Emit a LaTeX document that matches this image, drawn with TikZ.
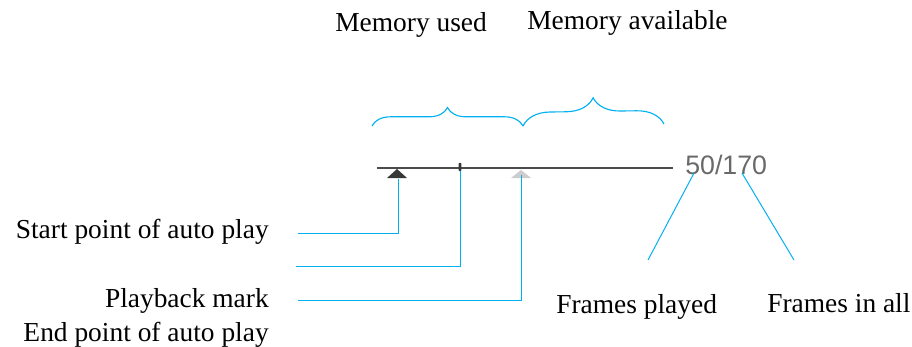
\documentclass[tikz,border=0pt]{standalone}
\usepackage{fontspec}
\setmainfont{Liberation Serif}
\newfontfamily\countfont{Liberation Sans}
\usetikzlibrary{decorations.pathreplacing,calc}
\usepackage{xcolor}
\definecolor{tlblue}{RGB}{0,176,240}
\definecolor{tlgray}{RGB}{75,75,75}
\definecolor{tlmark}{RGB}{55,55,55}
\definecolor{tllight}{RGB}{205,205,205}
\definecolor{tlcount}{RGB}{105,105,105}
\tikzset{
    tag/.style={
        font=\fontsize{19.5}{23}\selectfont,inner sep=0pt,text=black
    },
    leader/.style={
        draw=tlblue,line width=0.7pt
    },
    membrace/.style={
        draw=tlblue,line width=0.8pt,
        decorate,decoration={brace,amplitude=#1}
    },
    membrace/.default=0.45cm
}

\begin{document}
\begin{tikzpicture}[x=0.025cm,y=-0.025cm]
\useasboundingbox (0,0) rectangle (912,347);

% timeline with its marks
\coordinate (tl0) at (377,168);
\coordinate (tl1) at (673,168);
\draw[tlgray,line width=1.2pt] (tl0) -- (tl1);

\fill[tlmark] (387,178) -- (397,169) -- (407,178) -- cycle;
\coordinate (starttip) at (398,179);

\node[fill=tlmark,inner sep=0pt,minimum width=0.07cm,minimum height=0.2cm,
rounded corners=0.5pt]
(playmark) at (460,167){};

\fill[tllight] (511,178) -- (521,170) -- (531,178) -- cycle;
\coordinate (endtip) at (521,175);

\node[font=\countfont\fontsize{19}{22}\selectfont,text=tlcount,
inner sep=0pt,anchor=west]
(count) at (685,165){50/170};

% braces above the line
\coordinate (b1l) at (372,126);
\coordinate (b1r) at (523,126);
\coordinate (b2r) at (664,124);
\draw[membrace=0.46cm] (b1l) -- (b1r);
\draw[membrace=0.68cm] (b1r) -- (b2r);

\node[tag,anchor=base west](used) at (335,32){Memory used};
\node[tag,anchor=base west](avail) at (527,30){Memory available};

% labels on the left
\node[tag,anchor=base east](startlbl) at (269,238){Start point of auto play};
\node[tag,anchor=base east](playlbl) at (269,307){Playback mark};
\node[tag,anchor=base east](endlbl) at (269,341){End point of auto play};

\coordinate (startend) at (298,233);
\coordinate (playend) at (296,266);
\coordinate (endend) at (298,300);
\draw[leader](starttip) |- (startend);
\draw[leader](playmark.south) |- (playend);
\draw[leader](endtip) |- (endend);

% labels on the right
\node[tag,anchor=base west](played) at (556,313){Frames played};
\node[tag,anchor=base west](total) at (767,312){Frames in all};

\coordinate (playedend) at (648,260);
\coordinate (totalend) at (794,260);
\draw[leader]($(count.south west)+(9,-2)$) -- (playedend);
\draw[leader]($(count.south west)+(57,-2)$) -- (totalend);

\end{tikzpicture}
\end{document}
